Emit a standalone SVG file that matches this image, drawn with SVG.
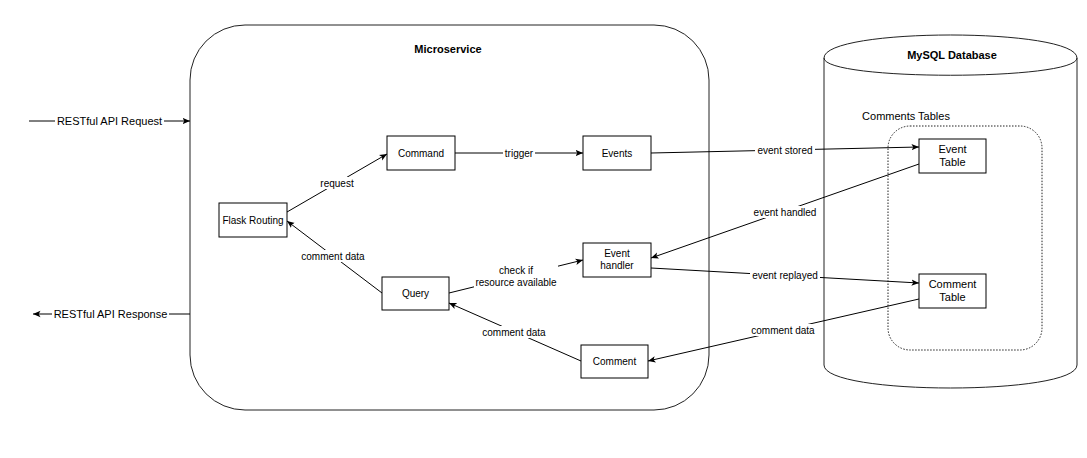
<svg xmlns="http://www.w3.org/2000/svg" width="1087" height="458" viewBox="0 0 1087 458">
<defs>
<marker id="arr" viewBox="0 0 8 8" refX="7.5" refY="4" markerWidth="8" markerHeight="8" markerUnits="userSpaceOnUse" orient="auto">
<path d="M0,0.8 L7.5,4 L0,7.2 L1.8,4 Z" fill="#000"/>
</marker>
<style>
text{font-family:"Liberation Sans",Arial,sans-serif;fill:#000}
.n{font-size:10px;text-anchor:middle}
.t{font-size:11px;text-anchor:middle}
.b{font-size:11px;font-weight:bold;text-anchor:middle}
.l{font-size:10px;text-anchor:middle}
.L{font-size:11px;text-anchor:middle}
.box{fill:#fff;stroke:#000;stroke-width:1}
.e{fill:none;stroke:#000;stroke-width:1}
.a{marker-end:url(#arr)}
.bg{fill:#fff}
</style>
</defs>
<rect width="1087" height="458" fill="#fff"/>

<g id="microservice">
<rect x="190" y="25" width="519" height="385" rx="55" ry="55" fill="#fff" stroke="#222" stroke-width="1"/>
<text class="b" x="448" y="53">Microservice</text>
</g>

<g id="mysql">
<path d="M824,58 C824,27.33 1077,27.33 1077,58 L1077,365 C1077,395.67 824,395.67 824,365 Z" fill="#fff" stroke="#222" stroke-width="1"/>
<path d="M824,58 C824,81 1077,81 1077,58" fill="none" stroke="#222" stroke-width="1"/>
<text class="b" x="952" y="59">MySQL Database</text>
</g>

<g id="comments-tables">
<rect x="888" y="126" width="154" height="224" rx="22" ry="22" fill="none" stroke="#222" stroke-width="1" stroke-dasharray="1.5,1.5"/>
<text x="906" y="120" style="font-size:11px;text-anchor:middle">Comments Tables</text>
</g>

<g id="connectors">
<line class="e a" x1="29" y1="121" x2="190" y2="121"/>
<line class="e a" x1="190" y1="314" x2="33" y2="314"/>
<line class="e a" x1="287" y1="212" x2="387" y2="154"/>
<line class="e a" x1="382" y1="293" x2="287" y2="221"/>
<line class="e a" x1="455" y1="153" x2="583" y2="153"/>
<line class="e a" x1="651" y1="153" x2="919" y2="147"/>
<line class="e a" x1="919" y1="164" x2="651" y2="258"/>
<line class="e a" x1="651" y1="268" x2="919" y2="283"/>
<line class="e a" x1="919" y1="299" x2="648" y2="361"/>
<line class="e a" x1="449" y1="293" x2="583" y2="260"/>
<line class="e a" x1="581" y1="361" x2="449" y2="303"/>

<rect class="bg" x="55" y="114" width="109" height="14"/>
<text class="L" x="109.5" y="125">RESTful API Request</text>
<rect class="bg" x="52" y="307" width="117" height="14"/>
<text class="L" x="110.5" y="318">RESTful API Response</text>
<rect class="bg" x="318" y="177" width="38" height="12"/>
<text class="l" x="337" y="186.5">request</text>
<rect class="bg" x="301" y="250" width="65" height="12"/>
<text class="l" x="333" y="259.5">comment data</text>
<rect class="bg" x="503" y="147" width="32" height="12"/>
<text class="l" x="519" y="156.5">trigger</text>
<rect class="bg" x="755" y="144" width="60" height="12"/>
<text class="l" x="785" y="153.5">event stored</text>
<rect class="bg" x="751" y="206" width="68" height="12"/>
<text class="l" x="785" y="215.5">event handled</text>
<rect class="bg" x="750" y="269" width="70" height="12"/>
<text class="l" x="785" y="278.5">event replayed</text>
<rect class="bg" x="750" y="324" width="66" height="12"/>
<text class="l" x="783" y="333.5">comment data</text>
<rect class="bg" x="474" y="263" width="84" height="26"/>
<text class="l" x="516" y="273.5">check if</text>
<text class="l" x="516" y="285.5">resource available</text>
<rect class="bg" x="481" y="326" width="66" height="12"/>
<text class="l" x="514" y="335.5">comment data</text>
</g>

<g id="flask-routing">
<rect class="box" x="219" y="203" width="68" height="34"/>
<text class="n" x="253" y="223.5">Flask Routing</text>
</g>
<g id="command">
<rect class="box" x="387" y="136" width="68" height="34"/>
<text class="n" x="421" y="156.5">Command</text>
</g>
<g id="query">
<rect class="box" x="382" y="277" width="67" height="33"/>
<text class="n" x="415.5" y="297">Query</text>
</g>
<g id="events">
<rect class="box" x="583" y="136" width="68" height="34"/>
<text class="n" x="617" y="156.5">Events</text>
</g>
<g id="event-handler">
<rect class="box" x="583" y="243" width="68" height="34"/>
<text class="n" x="617" y="257">Event</text>
<text class="n" x="617" y="269">handler</text>
</g>
<g id="comment">
<rect class="box" x="581" y="345" width="67" height="33"/>
<text class="n" x="614.5" y="365">Comment</text>
</g>
<g id="event-table">
<rect class="box" x="919" y="139" width="67" height="34"/>
<text class="t" x="952.5" y="153">Event</text>
<text class="t" x="952.5" y="166">Table</text>
</g>
<g id="comment-table">
<rect class="box" x="919" y="274" width="67" height="34"/>
<text class="t" x="952.5" y="288">Comment</text>
<text class="t" x="952.5" y="301">Table</text>
</g>
</svg>
